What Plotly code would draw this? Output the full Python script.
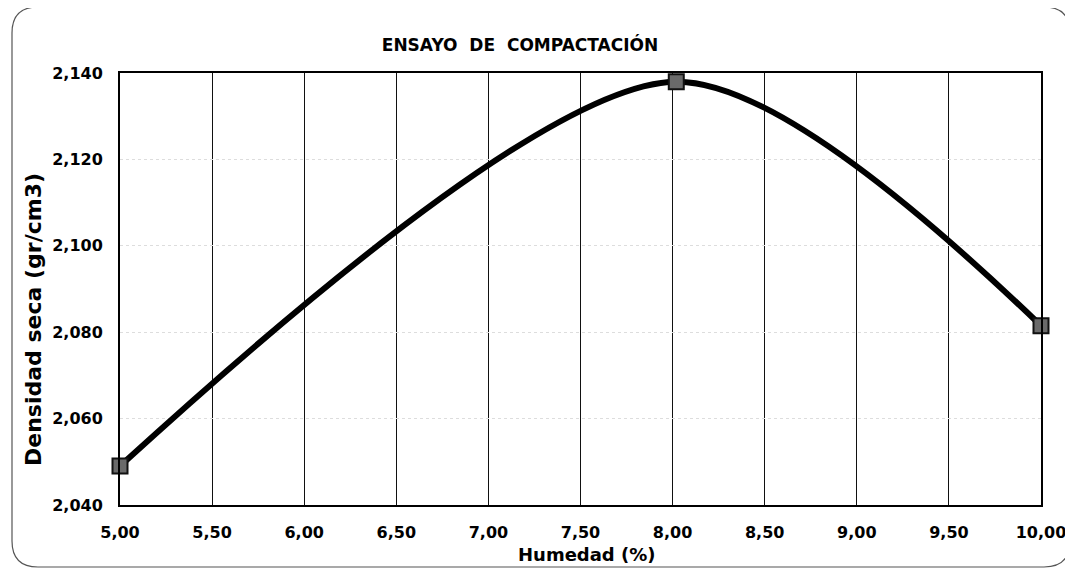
import plotly.graph_objects as go

humedad = [5.00, 8.02, 10.00]
densidad = [2.049, 2.138, 2.0815]
x_ticks = [5.0, 5.5, 6.0, 6.5, 7.0, 7.5, 8.0, 8.5, 9.0, 9.5, 10.0]
y_ticks = [2.040, 2.060, 2.080, 2.100, 2.120, 2.140]

# page has an 8px body margin, so figure origin is at (8, 8) on screen
OFF = 8
W, H = 1073 - OFF, 573 - OFF
# target plot area on screen: x 120..1041, y 73..505
L, T = 120 - OFF, 73 - OFF
R = (W + OFF) - 1041
B = (H + OFF) - 505
pw, ph = W - L - R, H - T - B

def px(x):  # screen x -> paper
    return (x - OFF - L) / pw

def py(y):  # screen y -> paper
    return (H + OFF - B - y) / ph

fig = go.Figure()
fig.add_trace(go.Scatter(
    x=humedad, y=densidad, mode="lines+markers",
    line=dict(color="black", width=6, shape="spline", smoothing=0.82),
    marker=dict(symbol="square", size=15, color="#6a6a6a",
                line=dict(color="#111", width=2)),
    cliponaxis=False, showlegend=False, hoverinfo="x+y"))

# rounded outer border
x0, x1, y0, y1, r = px(12), px(1070), py(567), py(7), 26
rx, ry = r / pw, r / ph
path = (f"M {x0+rx},{y1} L {x1-rx},{y1} Q {x1},{y1} {x1},{y1-ry} "
        f"L {x1},{y0+ry} Q {x1},{y0} {x1-rx},{y0} L {x0+rx},{y0} "
        f"Q {x0},{y0} {x0},{y0+ry} L {x0},{y1-ry} Q {x0},{y1} {x0+rx},{y1} Z")
fig.add_shape(type="path", path=path, xref="paper", yref="paper",
              line=dict(color="#555", width=1.2), layer="below")

font_b = "DejaVu Sans"
fig.add_annotation(text="<b>Humedad (%)</b>", xref="paper", yref="paper",
                   x=px(587), y=py(554), xanchor="center", yanchor="middle",
                   showarrow=False, font=dict(family=font_b, size=18, color="black"))
fig.add_annotation(text="<b>Densidad seca (gr/cm3)</b>", xref="paper", yref="paper",
                   x=px(33), y=py(320), xanchor="center", yanchor="middle",
                   textangle=-90, showarrow=False,
                   font=dict(family=font_b, size=22, color="black"))

fig.update_layout(
    width=W, height=H,
    margin=dict(l=L, r=R, t=T, b=B, autoexpand=False),
    paper_bgcolor="white", plot_bgcolor="white",
    separators=",.",
    font=dict(family=font_b, color="black"),
    title=dict(text="<b>ENSAYO  DE  COMPACTACIÓN</b>", x=(520 - OFF) / W, xanchor="center",
               y=1 - (45 - OFF) / H, yanchor="middle",
               font=dict(family=font_b, size=17, color="black")),
    xaxis=dict(range=[5, 10], tickvals=x_ticks, tickformat=".2f", automargin=False,
               showgrid=True, gridcolor="#111", gridwidth=1.2,
               showline=True, linecolor="black", linewidth=2, mirror=True,
               ticks="", ticklabelstandoff=12,
               tickfont=dict(family=font_b, size=16, color="black", weight="bold"),
               zeroline=False),
    yaxis=dict(range=[2.040, 2.140], tickvals=y_ticks, tickformat=".3f", automargin=False,
               showgrid=True, gridcolor="#dddddd", gridwidth=1, griddash="dot",
               showline=True, linecolor="black", linewidth=2, mirror=True,
               ticks="", ticklabelstandoff=12,
               tickfont=dict(family=font_b, size=16, color="black", weight="bold"),
               zeroline=False),
)

fig.write_html("out.html")
